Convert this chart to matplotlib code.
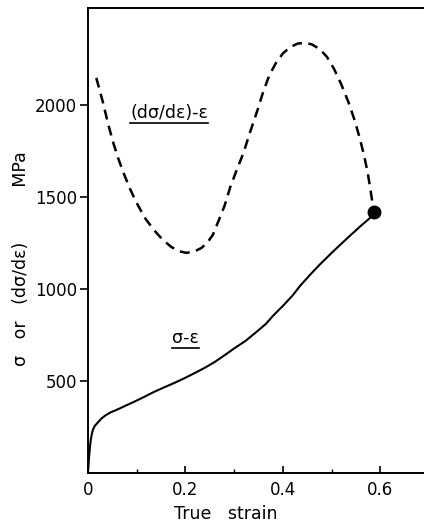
import matplotlib
matplotlib.use('Agg')
import matplotlib.pyplot as plt
from matplotlib.lines import Line2D

# flow curve, sigma vs true strain (MPa)
strain = [0.0, 0.001, 0.002, 0.004, 0.006, 0.008, 0.01, 0.014, 0.021,
          0.028, 0.037, 0.047, 0.058, 0.075, 0.094, 0.115, 0.135, 0.156,
          0.177, 0.198, 0.219, 0.24, 0.26, 0.281, 0.30, 0.323, 0.345,
          0.365, 0.38, 0.40, 0.42, 0.435, 0.455, 0.477, 0.50, 0.52, 0.54,
          0.56, 0.581, 0.5875]
stress = [0, 40, 80, 141, 185, 213, 234, 256, 277,
          297, 315, 330, 342, 363, 386, 413, 440, 465,
          489, 515, 543, 572, 603, 641, 677, 717, 765,
          810, 855, 908, 965, 1016, 1075, 1136, 1196, 1246, 1295,
          1343, 1391, 1420]

# work hardening rate d(sigma)/d(eps)
rate_strain = [0.017, 0.024, 0.031, 0.041, 0.052, 0.062, 0.073, 0.086,
               0.10, 0.117, 0.135, 0.153, 0.171, 0.187, 0.202, 0.218,
               0.233, 0.245, 0.256, 0.267, 0.28, 0.292, 0.305, 0.319,
               0.333, 0.348, 0.36, 0.372, 0.385, 0.40, 0.415, 0.43,
               0.445, 0.46, 0.475, 0.49, 0.505, 0.52, 0.535, 0.548,
               0.558, 0.567, 0.574, 0.579, 0.583, 0.5875]
rate = [2147, 2080, 2011, 1900, 1793, 1710, 1630, 1545,
        1467, 1385, 1321, 1268, 1228, 1205, 1196, 1203,
        1223, 1252, 1293, 1364, 1450, 1554, 1645, 1739,
        1855, 1973, 2075, 2160, 2225, 2280, 2314, 2333,
        2338, 2328, 2304, 2262, 2195, 2110, 2011, 1910,
        1815, 1720, 1630, 1550, 1480, 1420]

x_ticks = [0, 0.2, 0.4, 0.6]
x_tick_labels = ['0', '0.2', '0.4', '0.6']
y_ticks = [500, 1000, 1500, 2000]

plt.rcParams['font.family'] = 'DejaVu Sans'


def underlined(ax, x, y, s, **kw):
    # text with a rule drawn just below its bounding box
    t = ax.text(x, y, s, ha='center', va='center', **kw)
    fig = ax.figure
    fig.canvas.draw()
    bb = t.get_window_extent()
    x0, y0 = fig.transFigure.inverted().transform((bb.x0, bb.y0 - 1))
    x1, _ = fig.transFigure.inverted().transform((bb.x1, bb.y0 - 1))
    fig.add_artist(Line2D([x0, x1], [y0, y0], color='black', lw=1.2,
                          transform=fig.transFigure))
    return t


fig = plt.figure(figsize=(4.24, 5.27), dpi=100)
ax = fig.add_axes([0.2075, 0.1025, 0.80, 0.8825])

ax.plot(strain, stress, color='black', lw=1.5, solid_capstyle='round')
ax.plot(rate_strain, rate, color='black', lw=1.8, dashes=(4, 2.6))
ax.plot(strain[-1], stress[-1], 'o', color='black', ms=9)

ax.set_xlim(0, 0.696)
ax.set_ylim(0, 2527)

ax.set_xticks(x_ticks)
ax.set_xticklabels(x_tick_labels)
ax.set_xticks([0.1, 0.3, 0.5], minor=True)
ax.set_yticks(y_ticks)

ax.tick_params(axis='x', which='major', direction='in', length=5, width=1.2,
               labelsize=12, pad=6)
ax.tick_params(axis='x', which='minor', direction='in', length=3, width=1.0)
ax.tick_params(axis='y', direction='out', length=6, width=1.2,
               labelsize=12, pad=2)

for side in ['left', 'top', 'bottom']:
    ax.spines[side].set_linewidth(1.4)
ax.spines['right'].set_visible(False)

ax.set_xlabel('True   strain', fontsize=12.5)
ax.xaxis.set_label_coords(0.405, -0.068)
ax.set_ylabel('σ   or   (dσ/dε)          MPa', fontsize=12.5)
ax.yaxis.set_label_coords(-0.172, 0.46)

underlined(ax, 0.167, 1957, '(dσ/dε)-ε', fontsize=12.5)
underlined(ax, 0.2, 735, 'σ-ε', fontsize=12.5)

fig.savefig('out.png', dpi=100)
